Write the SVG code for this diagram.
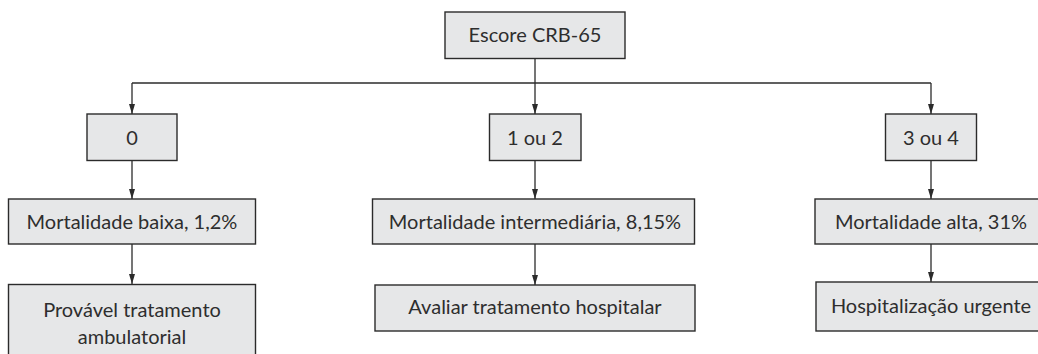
<svg xmlns="http://www.w3.org/2000/svg" width="1038" height="354" viewBox="0 0 1038 354">
  <style>
    .box { fill: #e6e7e8; stroke: #2b2b2b; stroke-width: 1.4; }
    .lbl { font-family: Lato, "Open Sans", sans-serif; font-size: 20px; fill: #2e2e2e; text-anchor: middle; }
    .conn { fill: none; stroke: #2b2b2b; stroke-width: 1.3; }
  </style>
  <defs>
    <marker id="arr" markerUnits="userSpaceOnUse" markerWidth="10" markerHeight="7" refX="10" refY="3.5" orient="auto">
      <path d="M0,0.5 L10,3.5 L0,6.5 z" fill="#2b2b2b"/>
    </marker>
  </defs>
  <rect width="1038" height="354" fill="#ffffff"/>

  <g id="connectors">
    <line class="conn" x1="535" y1="59" x2="535" y2="114" marker-end="url(#arr)"/>
    <line class="conn" x1="132" y1="83" x2="931" y2="83"/>
    <line class="conn" x1="132" y1="83" x2="132" y2="114" marker-end="url(#arr)"/>
    <line class="conn" x1="931" y1="83" x2="931" y2="114" marker-end="url(#arr)"/>
    <line class="conn" x1="132" y1="161" x2="132" y2="199" marker-end="url(#arr)"/>
    <line class="conn" x1="535" y1="161" x2="535" y2="199" marker-end="url(#arr)"/>
    <line class="conn" x1="931" y1="161" x2="931" y2="199" marker-end="url(#arr)"/>
    <line class="conn" x1="132" y1="244" x2="132" y2="284" marker-end="url(#arr)"/>
    <line class="conn" x1="535" y1="244" x2="535" y2="285" marker-end="url(#arr)"/>
    <line class="conn" x1="931" y1="244" x2="931" y2="282" marker-end="url(#arr)"/>
  </g>

  <g id="escore">
    <rect class="box" x="445" y="12" width="180" height="46.5"/>
    <text class="lbl" x="535" y="42">Escore CRB-65</text>
  </g>
  <g id="score0">
    <rect class="box" x="87" y="114" width="90" height="46.5"/>
    <text class="lbl" x="132" y="145">0</text>
  </g>
  <g id="score12">
    <rect class="box" x="489.5" y="114" width="91.5" height="46.5"/>
    <text class="lbl" x="535" y="145">1 ou 2</text>
  </g>
  <g id="score34">
    <rect class="box" x="885.5" y="114" width="91" height="46.5"/>
    <text class="lbl" x="931" y="145">3 ou 4</text>
  </g>
  <g id="mort-baixa">
    <rect class="box" x="8.5" y="199" width="247" height="45"/>
    <text class="lbl" x="132" y="229">Mortalidade baixa, 1,2%</text>
  </g>
  <g id="mort-inter">
    <rect class="box" x="372.5" y="199" width="322" height="45"/>
    <text class="lbl" x="535" y="229">Mortalidade intermediária, 8,15%</text>
  </g>
  <g id="mort-alta">
    <rect class="box" x="815" y="199" width="230" height="45"/>
    <text class="lbl" x="931" y="229">Mortalidade alta, 31%</text>
  </g>
  <g id="ambulatorial">
    <rect class="box" x="8.5" y="284.5" width="247" height="80"/>
    <text class="lbl" x="132" y="316.5">Provável tratamento</text>
    <text class="lbl" x="132" y="343.5">ambulatorial</text>
  </g>
  <g id="hospitalar">
    <rect class="box" x="375" y="285" width="320" height="46"/>
    <text class="lbl" x="535" y="314">Avaliar tratamento hospitalar</text>
  </g>
  <g id="urgente">
    <rect class="box" x="816" y="282" width="230" height="49"/>
    <text class="lbl" x="931" y="313">Hospitalização urgente</text>
  </g>
</svg>
